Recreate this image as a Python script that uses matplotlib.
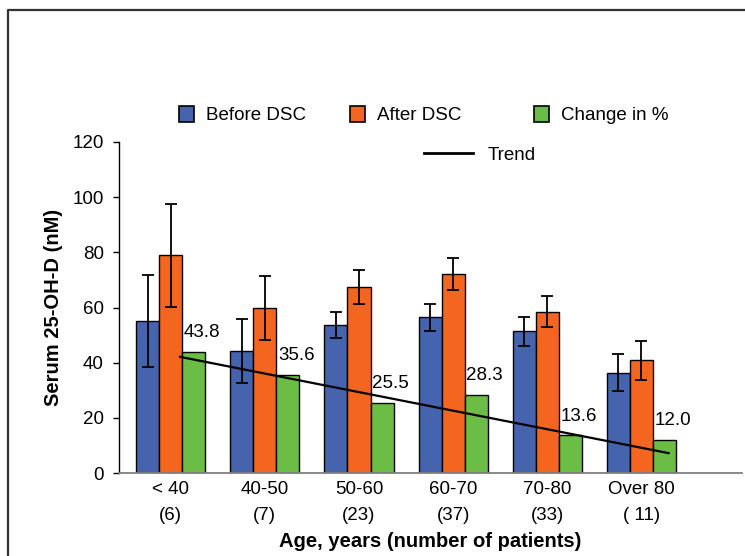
import matplotlib
matplotlib.use("Agg")
import matplotlib.pyplot as plt
from matplotlib.patches import Patch
from matplotlib.lines import Line2D
import numpy as np

plt.rcParams['font.family'] = ['Liberation Sans', 'DejaVu Sans']

# ---- data ----
age_groups = ["< 40", "40-50", "50-60", "60-70", "70-80", "Over 80"]
n_patients = ["(6)", "(7)", "(23)", "(37)", "(33)", "( 11)"]
before = [55.2, 44.2, 53.5, 56.4, 51.3, 36.4]
before_err = [16.6, 11.7, 4.7, 5.0, 5.3, 6.7]
after = [78.9, 59.7, 67.3, 72.3, 58.4, 40.8]
after_err = [18.6, 11.6, 6.2, 5.8, 5.6, 7.2]
change = [43.8, 35.6, 25.5, 28.3, 13.6, 12.0]
trend_values = [42.1, 7.2]      # trend line at its start / end
trend_pos = [0.1, 5.29]          # in category units

blue = "#4564AD"
orange = "#F4661F"
green = "#6BBD45"

FS = 13.5
W, H = 745, 556
fig = plt.figure(figsize=(W / 100, H / 100), dpi=100)
ax = fig.add_axes([119 / W, 1 - 473 / H, (742 - 119) / W, (473 - 142) / H])

x = np.arange(len(age_groups))
bw = 0.245
ekw = dict(ecolor="black", elinewidth=1.3, capsize=4, capthick=1.3)
ax.bar(x - bw, before, bw, color=blue, edgecolor="black", linewidth=1.0,
       yerr=before_err, error_kw=ekw, zorder=2)
ax.bar(x, after, bw, color=orange, edgecolor="black", linewidth=1.0,
       yerr=after_err, error_kw=ekw, zorder=2)
ax.bar(x + bw, change, bw, color=green, edgecolor="black", linewidth=1.0, zorder=2)

for xi, v in zip(x + bw, change):
    ax.annotate(f"{v:.1f}", (xi, v), xytext=(6, 14), textcoords="offset points",
                ha="center", va="center", fontsize=FS)

ax.plot(trend_pos, trend_values, color="black", linewidth=1.6, zorder=3)

ax.set_xlim(-0.55, 6.07)
ax.set_ylim(0, 120)
ax.set_yticks(range(0, 121, 20))
ax.set_xticks(x)
ax.set_xticklabels([f"{a}\n{n}" for a, n in zip(age_groups, n_patients)],
                   fontsize=FS, linespacing=1.65)
ax.tick_params(axis="x", length=0, pad=6)
ax.tick_params(axis="y", length=4.5, width=1, pad=6.5, labelsize=FS, direction="out")

for s in ["top", "right"]:
    ax.spines[s].set_visible(False)
ax.spines["left"].set_color("black")
ax.spines["left"].set_linewidth(1.0)
ax.spines["bottom"].set_color("#808080")
ax.spines["bottom"].set_linewidth(1.3)

ax.set_xlabel("Age, years (number of patients)", fontsize=14.5, fontweight="bold", labelpad=6)
ax.set_ylabel("Serum 25-OH-D (nM)", fontsize=14.5, fontweight="bold", labelpad=7)

# legends
items = [(Patch(facecolor=blue, edgecolor="black", linewidth=1.2), "Before DSC", 179, 115),
         (Patch(facecolor=orange, edgecolor="black", linewidth=1.2), "After DSC", 350, 115),
         (Patch(facecolor=green, edgecolor="black", linewidth=1.2), "Change in %", 534, 115)]
for h, lab, px, py in items:
    lg = fig.legend([h], [lab], loc="center left", bbox_to_anchor=(px / W, 1 - py / H),
                    frameon=False, fontsize=FS, borderpad=0, borderaxespad=0,
                    handlelength=0.8, handleheight=0.95, handletextpad=0.65)
lg = fig.legend([Line2D([0], [0], color="black", lw=2)], ["Trend"], loc="center left",
                bbox_to_anchor=(424 / W, 1 - 155 / H), frameon=False, fontsize=FS,
                borderpad=0, borderaxespad=0, handlelength=2.6, handletextpad=0.8)

# outer frame
fig.add_artist(Line2D([8 / W, 8 / W, 1], [0, 1 - 10 / H, 1 - 10 / H],
                      transform=fig.transFigure, color="#333333", lw=1.6))

fig.savefig("out.png", dpi=100)
